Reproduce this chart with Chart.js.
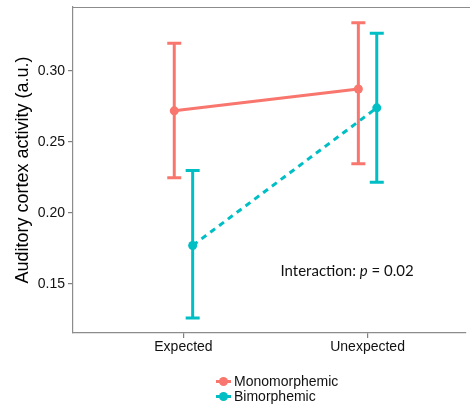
<!DOCTYPE html>
<html>
<head>
<meta charset="utf-8">
<script src="https://cdn.jsdelivr.net/npm/chart.js@4.4.1/dist/chart.umd.min.js"></script>
<style>
  html, body { margin: 0; padding: 0; background: #fff; overflow: hidden; }
  #wrap { position: relative; width: 470px; height: 404px; }
  #legend { position: absolute; left: 216px; top: 374px; font: 14px "Liberation Sans", Arial, sans-serif; color: #111; }
  .item { height: 15px; line-height: 15px; white-space: nowrap; }
  .sym { display: inline-block; position: relative; width: 15px; height: 15px; vertical-align: top; margin-right: 3px; }
  .sym .ln { position: absolute; left: 0; right: 0; top: 6px; height: 3px; }
  .sym .dot { position: absolute; left: 3px; top: 3px; width: 9px; height: 9px; border-radius: 50%; }
</style>
</head>
<body>
<div id="wrap">
  <canvas id="chartscreen" width="470" height="404"></canvas>
  <div id="legend"></div>
</div>
<script>
// data
const categories = ["Expected", "Unexpected"];
const groups = ["Monomorphemic", "Bimorphemic"];
const monoMean = [0.2719, 0.2873];
const monoLow = [0.2248, 0.2346];
const monoHigh = [0.3195, 0.3340];
const biMean = [0.1771, 0.2740];
const biLow = [0.1261, 0.2217];
const biHigh = [0.2299, 0.3265];
const yTicks = [0.15, 0.20, 0.25, 0.30];

const colors = ["#F8766D", "#00BFC4"];
const dodge = [-0.05, 0.05];

function makePoints(means, g) {
  var pts = [];
  for (var i = 0; i < means.length; i++) {
    pts.push({ x: i + 1 + dodge[g], y: means[i] });
  }
  return pts;
}

// error bars drawn from the scales
const errorBars = {
  id: "errorBars",
  beforeDatasetsDraw(chart) {
    const ctx = chart.ctx;
    const xs = chart.scales.x, ys = chart.scales.y;
    chart.data.datasets.forEach(function(ds) {
      ctx.save();
      ctx.strokeStyle = ds.borderColor;
      ctx.lineWidth = 3;
      ctx.setLineDash([]);
      ds.data.forEach(function(p, i) {
        const px = xs.getPixelForValue(p.x);
        const top = ys.getPixelForValue(ds.errHigh[i]);
        const bot = ys.getPixelForValue(ds.errLow[i]);
        ctx.beginPath();
        ctx.moveTo(px, top); ctx.lineTo(px, bot);
        ctx.moveTo(px - 7, top); ctx.lineTo(px + 7, top);
        ctx.moveTo(px - 7, bot); ctx.lineTo(px + 7, bot);
        ctx.stroke();
      });
      ctx.restore();
    });
  }
};

// top frame line + p-value note
const extras = {
  id: "extras",
  afterDraw(chart) {
    const ctx = chart.ctx;
    const a = chart.chartArea;
    ctx.save();
    ctx.strokeStyle = "#8c8c8c";
    ctx.lineWidth = 1.2;
    ctx.beginPath();
    ctx.moveTo(a.left, a.top + 0.5);
    ctx.lineTo(chart.width, a.top + 0.5);
    ctx.stroke();

    const x = chart.scales.x.getPixelForValue(1.527);
    const y = chart.scales.y.getPixelForValue(0.1558);
    ctx.fillStyle = "#111";
    ctx.textBaseline = "alphabetic";
    ctx.font = '15px Lato, "Open Sans", sans-serif';
    var t1 = "Interaction: ";
    ctx.fillText(t1, x, y);
    var w = ctx.measureText(t1).width;
    ctx.font = 'italic 15px Lato, "Open Sans", sans-serif';
    ctx.fillText("p", x + w, y);
    w += ctx.measureText("p").width;
    ctx.font = '15px Lato, "Open Sans", sans-serif';
    ctx.fillText(" = 0.02", x + w, y);
    ctx.restore();
  }
};

const chart_canvas = document.getElementById("chartscreen");

new Chart(chart_canvas, {
  type: "line",
  data: {
    datasets: [{
      label: groups[0],
      data: makePoints(monoMean, 0),
      errLow: monoLow,
      errHigh: monoHigh,
      borderColor: colors[0],
      backgroundColor: colors[0],
      borderWidth: 3,
      pointRadius: 4.5,
      pointBorderWidth: 0
    }, {
      label: groups[1],
      data: makePoints(biMean, 1),
      errLow: biLow,
      errHigh: biHigh,
      borderColor: colors[1],
      backgroundColor: colors[1],
      borderWidth: 3,
      borderDash: [6, 5],
      pointRadius: 4.5,
      pointBorderWidth: 0
    }]
  },
  options: {
    responsive: false,
    animation: false,
    layout: { padding: { top: 7, left: 0, right: 0, bottom: 0 } },
    plugins: {
      legend: { display: false },
      tooltip: { enabled: false }
    },
    scales: {
      x: {
        type: "linear",
        min: 0.4,
        max: 2.532,
        afterBuildTicks: function(s) {
          s.ticks = categories.map(function(c, i) { return { value: i + 1 }; });
        },
        afterFit: function(s) {
          s.height = 71;
          s.paddingLeft = 0; s.paddingRight = 0;
        },
        ticks: {
          callback: function(v) { return categories[v - 1]; },
          color: "#111",
          font: { family: '"Liberation Sans", Arial, sans-serif', size: 14 },
          padding: 1,
          maxRotation: 0
        },
        grid: { drawOnChartArea: false, drawTicks: true, tickLength: 5, color: "#7f7f7f", lineWidth: 1.2 },
        border: { display: true, color: "#8c8c8c", width: 1.2 }
      },
      y: {
        min: 0.1155,
        max: 0.345,
        afterBuildTicks: function(s) {
          s.ticks = yTicks.map(function(v) { return { value: v }; });
        },
        afterFit: function(s) {
          s.width = 73;
          s.paddingTop = 0; s.paddingBottom = 0;
        },
        ticks: {
          callback: function(v) { return v.toFixed(2); },
          color: "#111",
          font: { family: '"Liberation Sans", Arial, sans-serif', size: 14 },
          padding: 3
        },
        grid: { drawOnChartArea: false, drawTicks: true, tickLength: 5, color: "#7f7f7f", lineWidth: 1.2 },
        border: { display: true, color: "#8c8c8c", width: 1.2 },
        title: {
          display: true,
          text: "Auditory cortex activity (a.u.)",
          color: "#000",
          font: { family: '"Liberation Sans", Arial, sans-serif', size: 18 },
          padding: { top: 12, bottom: 0 }
        }
      }
    }
  },
  plugins: [errorBars, extras]
});

// legend stacked in two rows like the original
const legend = document.getElementById("legend");
groups.forEach(function(g, i) {
  const row = document.createElement("div");
  row.className = "item";
  row.innerHTML = '<span class="sym"><span class="ln" style="background:' + colors[i] +
    '"></span><span class="dot" style="background:' + colors[i] + '"></span></span>' + g;
  legend.appendChild(row);
});
</script>
</body>
</html>
